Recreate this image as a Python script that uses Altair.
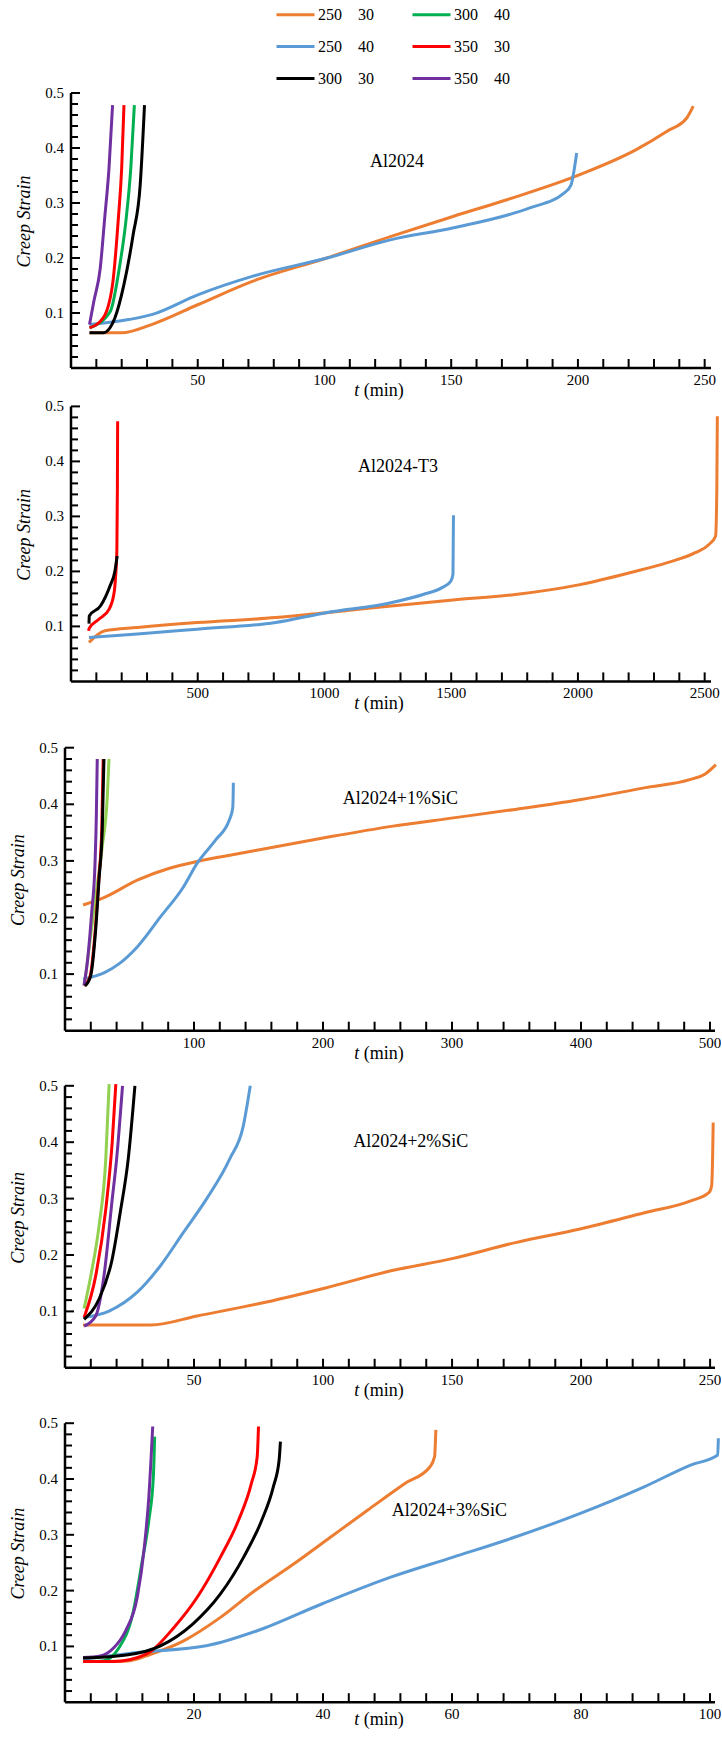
import altair as alt
import pandas as pd

FONT = "Liberation Serif"
SP = "\u00a0\u00a0\u00a0\u00a0"

# ---- series keys (legend labels) and colours ----
K_250_30 = "250" + SP + "30"
K_300_40 = "300" + SP + "40"
K_250_40 = "250" + SP + "40"
K_350_30 = "350" + SP + "30"
K_300_30 = "300" + SP + "30"
K_350_40 = "350" + SP + "40"
K_300_40_LT = "300" + SP + "40\u200b"   # light-green variant used in two panels

# legend fills column by column: col 1 = orange, blue, black; col 2 = green, red, purple
LEGEND_KEYS = [K_250_30, K_250_40, K_300_30, K_300_40, K_350_30, K_350_40]
ALL_KEYS = [K_250_30, K_250_40, K_300_30, K_300_40, K_350_30, K_350_40, K_300_40_LT]
ALL_COLORS = ["#ed7d31", "#5b9bd5", "#000000", "#00b050", "#ff0000", "#7030a0", "#92d050"]

# ---- Panel 1: Al2024 ----
P1_ORANGE_T = [7.3, 20, 31.8, 50, 71.8, 100.9, 126, 151, 172, 201, 223, 235, 243, 245.5]
P1_ORANGE_E = [0.064, 0.064, 0.079, 0.115, 0.158, 0.200, 0.239, 0.276, 0.306, 0.352, 0.397, 0.430, 0.455, 0.476]
P1_BLUE_T = [7.3, 22.7, 31.8, 50, 71.8, 101, 126, 151, 181, 194.5, 197.3, 198.2, 199.5]
P1_BLUE_E = [0.079, 0.088, 0.097, 0.133, 0.167, 0.200, 0.233, 0.255, 0.291, 0.318, 0.333, 0.352, 0.391]
P1_GREEN_T = [7.3, 15.5, 19.0, 21.8, 23.6, 25.0]
P1_GREEN_E = [0.073, 0.103, 0.180, 0.273, 0.364, 0.478]
P1_RED_T = [7.3, 12.7, 16.4, 18.7, 20.0, 20.9]
P1_RED_E = [0.073, 0.091, 0.152, 0.273, 0.364, 0.478]
P1_PURPLE_T = [7.3, 9.0, 11.5, 13.3, 15.0, 16.4]
P1_PURPLE_E = [0.079, 0.121, 0.180, 0.273, 0.364, 0.478]
P1_BLACK_T = [7.3, 12.7, 17.3, 20.9, 24.5, 27.3, 29.0]
P1_BLACK_E = [0.064, 0.064, 0.091, 0.152, 0.242, 0.333, 0.478]

# ---- Panel 2: Al2024-T3 ----
P2_ORANGE_T = [71, 134, 262, 498, 807, 1007, 1262, 1507, 1753, 2008, 2208, 2353, 2463, 2517, 2543, 2548, 2550]
P2_ORANGE_E = [0.071, 0.092, 0.098, 0.107, 0.116, 0.125, 0.137, 0.148, 0.158, 0.176, 0.198, 0.216, 0.234, 0.249, 0.264, 0.350, 0.482]
P2_BLUE_T = [71, 262, 498, 807, 1007, 1262, 1389, 1462, 1498, 1507, 1508, 1509]
P2_BLUE_E = [0.080, 0.086, 0.095, 0.107, 0.125, 0.143, 0.158, 0.170, 0.182, 0.195, 0.250, 0.302]
P2_RED_T = [70, 71, 110, 150, 170, 176, 181, 183, 184]
P2_RED_E = [0.092, 0.096, 0.113, 0.131, 0.161, 0.191, 0.240, 0.350, 0.473]
P2_BLACK_T = [71, 72, 116, 155, 173, 182]
P2_BLACK_E = [0.105, 0.119, 0.137, 0.175, 0.200, 0.228]

# ---- Panel 3: Al2024+1%SiC ----
P3_ORANGE_T = [14, 31, 56, 81, 102.5, 135, 199, 253, 301, 349, 399, 449, 485, 496, 504.6]
P3_ORANGE_E = [0.222, 0.236, 0.266, 0.287, 0.299, 0.313, 0.340, 0.361, 0.376, 0.391, 0.408, 0.429, 0.444, 0.453, 0.470]
P3_BLUE_T = [14, 31, 41.8, 56, 74, 91.8, 102.5, 116.8, 127.5, 130, 130.4, 130.5]
P3_BLUE_E = [0.091, 0.103, 0.118, 0.148, 0.201, 0.254, 0.296, 0.337, 0.373, 0.393, 0.420, 0.438]
P3_GREEN_T = [15, 17.3, 23.8, 28.9, 32.8, 34.1]
P3_GREEN_E = [0.080, 0.121, 0.238, 0.326, 0.414, 0.480]
P3_RED_T = [15, 19.5, 23.5, 26.2, 28.5, 29.6]
P3_RED_E = [0.079, 0.097, 0.179, 0.268, 0.356, 0.480]
P3_PURPLE_T = [14.7, 17.3, 20.7, 23.3, 24.3, 25.0]
P3_PURPLE_E = [0.080, 0.121, 0.209, 0.297, 0.380, 0.480]
P3_BLACK_T = [15.5, 19.9, 23.8, 26.4, 28.9, 30.2]
P3_BLACK_E = [0.079, 0.097, 0.179, 0.268, 0.356, 0.480]

# ---- Panel 4: Al2024+2%SiC ----
P4_ORANGE_T = [7, 20, 33.4, 51.2, 74.5, 101.3, 126.3, 150.4, 174.6, 199.6, 224.6, 242.5, 249.6, 250.6, 251, 251.2]
P4_ORANGE_E = [0.076, 0.076, 0.076, 0.092, 0.113, 0.142, 0.172, 0.194, 0.222, 0.246, 0.275, 0.296, 0.311, 0.323, 0.380, 0.435]
P4_BLUE_T = [7, 17.3, 28, 37, 45.9, 54.8, 63.8, 69.1, 71.8]
P4_BLUE_E = [0.089, 0.101, 0.134, 0.181, 0.240, 0.299, 0.370, 0.429, 0.500]
P4_GREEN_T = [7.4, 10, 13.2, 15.8, 17.1]
P4_GREEN_E = [0.105, 0.163, 0.252, 0.370, 0.503]
P4_RED_T = [7.4, 11.9, 15.8, 18.3, 19.7]
P4_RED_E = [0.089, 0.163, 0.281, 0.400, 0.503]
P4_PURPLE_T = [7.4, 11.9, 15.1, 18.3, 20, 22.3]
P4_PURPLE_E = [0.074, 0.092, 0.163, 0.299, 0.370, 0.500]
P4_BLACK_T = [7.4, 13.2, 18.3, 21.6, 24.5, 27.1]
P4_BLACK_E = [0.086, 0.122, 0.193, 0.281, 0.370, 0.500]

# ---- Panel 5: Al2024+3%SiC ----
P5_ORANGE_T = [2.8, 9.8, 13.3, 18.4, 24.1, 29.1, 35.5, 41.2, 46.9, 52.7, 56.6, 57.3, 57.5]
P5_ORANGE_E = [0.073, 0.074, 0.086, 0.110, 0.152, 0.197, 0.248, 0.296, 0.344, 0.392, 0.422, 0.440, 0.488]
P5_BLUE_T = [2.8, 11.2, 21.9, 29.8, 39.8, 50.5, 60.2, 69.8, 79.8, 89.8, 97, 101.2, 101.3]
P5_BLUE_E = [0.077, 0.089, 0.101, 0.128, 0.176, 0.224, 0.260, 0.296, 0.338, 0.386, 0.425, 0.443, 0.473]
P5_GREEN_T = [2.8, 5.85, 8.4, 10.5, 11.9, 13.0, 13.7, 13.9]
P5_GREEN_E = [0.073, 0.074, 0.098, 0.158, 0.248, 0.326, 0.404, 0.476]
P5_RED_T = [2.8, 7.6, 12.6, 16.9, 20.5, 24.1, 26.9, 28.9, 29.8, 30.0]
P5_RED_E = [0.073, 0.073, 0.086, 0.134, 0.188, 0.260, 0.326, 0.392, 0.440, 0.494]
P5_PURPLE_T = [2.8, 5.5, 7.6, 9.4, 11.2, 12.3, 13.0, 13.6]
P5_PURPLE_E = [0.080, 0.083, 0.098, 0.128, 0.188, 0.278, 0.368, 0.494]
P5_BLACK_T = [2.8, 9.8, 14.8, 19.8, 24.1, 27.7, 30.5, 32.3, 33.2, 33.4]
P5_BLACK_E = [0.079, 0.085, 0.101, 0.140, 0.194, 0.260, 0.326, 0.386, 0.434, 0.467]

# ---- axis tick values ----
Y_LABELS = [0.1, 0.2, 0.3, 0.4, 0.5]
Y_MINOR = [0.02, 0.04, 0.06, 0.08, 0.12, 0.14, 0.16, 0.18, 0.22, 0.24, 0.26, 0.28,
           0.32, 0.34, 0.36, 0.38, 0.42, 0.44, 0.46, 0.48]

LEGEND = alt.Legend(
    orient="none", legendX=210, legendY=-86, columns=2, title=None,
    values=LEGEND_KEYS, symbolType="stroke", symbolSize=1444, symbolStrokeWidth=3,
    labelFont=FONT, labelFontSize=16, labelColor="black", labelOffset=2,
    columnPadding=37, rowPadding=15, clipHeight=15, padding=0, labelLimit=300,
)


def panel(series, xmax, width, plot_h, extra, x0px, xlabels, xstep, label, lx, ly, tgap=23):
    per = (width - x0px) / xmax
    xmin = -x0px / per
    total_h = plot_h + extra
    ymax = 0.5 * total_h / plot_h
    rows = []
    for key, ts, es in series:
        for t, e in zip(ts, es):
            rows.append({"series": key, "t": t, "strain": e})
    df = pd.DataFrame(rows)
    xs = alt.Scale(domain=[xmin, xmax], nice=False, zero=False)
    ys = alt.Scale(domain=[0, ymax], nice=False, zero=False)

    def X(f):
        return alt.X(f, scale=xs, axis=None)

    def Y(f):
        return alt.Y(f, scale=ys, axis=None)

    lines = alt.Chart(df).mark_line(interpolate="monotone", strokeWidth=3).encode(
        x=X("t:Q"), y=Y("strain:Q"),
        color=alt.Color("series:N", scale=alt.Scale(domain=ALL_KEYS, range=ALL_COLORS), legend=LEGEND),
    )

    yline = alt.Chart(pd.DataFrame({"t": [0], "strain": [0], "hi": [0.5]})).mark_rule(
        color="black", strokeWidth=2.5).encode(x=X("t:Q"), y=Y("strain:Q"), y2="hi:Q")
    xline = alt.Chart(pd.DataFrame({"t": [0], "b": [xmax], "strain": [0]})).mark_rule(
        color="black", strokeWidth=2.5).encode(x=X("t:Q"), x2="b:Q", y=Y("strain:Q"))

    ymaj = alt.Chart(pd.DataFrame({"strain": Y_LABELS})).mark_rule(color="black", strokeWidth=2).encode(
        y=Y("strain:Q"), x=alt.value(x0px), x2=alt.value(x0px + 9))
    ymin = alt.Chart(pd.DataFrame({"strain": Y_MINOR})).mark_rule(color="black", strokeWidth=2).encode(
        y=Y("strain:Q"), x=alt.value(x0px), x2=alt.value(x0px + 7))
    n = int(xmax // xstep + 1e-9)
    xt = [xstep * i for i in range(1, n + 1)]
    xticks = alt.Chart(pd.DataFrame({"t": xt})).mark_rule(color="black", strokeWidth=2).encode(
        x=X("t:Q"), y=alt.value(total_h), y2=alt.value(total_h - 9))

    # tick labels and axis titles
    ylab = alt.Chart(pd.DataFrame({"strain": Y_LABELS})).mark_text(
        font=FONT, fontSize=15, align="right", baseline="middle", color="black").encode(
        y=Y("strain:Q"), x=alt.value(x0px - 7), text=alt.Text("strain:Q", format=".1f"))
    xlab = alt.Chart(pd.DataFrame({"t": xlabels})).mark_text(
        font=FONT, fontSize=15, align="center", baseline="middle", color="black").encode(
        x=X("t:Q"), y=alt.value(total_h + 12), text=alt.Text("t:Q", format="d"))

    dummy = pd.DataFrame({"a": [0]})
    ytitle = alt.Chart(dummy).mark_text(
        text="Creep Strain", font=FONT, fontStyle="italic", fontSize=18, angle=270,
        align="center", baseline="middle", color="black").encode(
        x=alt.value(x0px - 46), y=alt.value(extra + plot_h / 2 - 9))
    tt = alt.Chart(dummy).mark_text(text="t", font=FONT, fontStyle="italic", fontSize=18,
                                    align="left", baseline="middle", color="black").encode(
        x=alt.value(289.3), y=alt.value(total_h + tgap))
    tm = alt.Chart(dummy).mark_text(text="(min)", font=FONT, fontSize=18,
                                    align="left", baseline="middle", color="black").encode(
        x=alt.value(298.8), y=alt.value(total_h + tgap))

    ann = alt.Chart(pd.DataFrame({"t": [lx], "strain": [ly], "txt": [label]})).mark_text(
        font=FONT, fontSize=18, align="center", baseline="middle", color="black").encode(
        x=X("t:Q"), y=Y("strain:Q"), text="txt:N")

    return alt.layer(lines, yline, xline, ymaj, ymin, xticks, ylab, xlab, ytitle, tt, tm, ann).properties(
        width=width, height=total_h)


p1 = panel([(K_250_30, P1_ORANGE_T, P1_ORANGE_E), (K_250_40, P1_BLUE_T, P1_BLUE_E),
            (K_300_40, P1_GREEN_T, P1_GREEN_E), (K_350_30, P1_RED_T, P1_RED_E),
            (K_350_40, P1_PURPLE_T, P1_PURPLE_E), (K_300_30, P1_BLACK_T, P1_BLACK_E)],
           xmax=252.5, width=646, plot_h=275, extra=0, x0px=6, xlabels=[50, 100, 150, 200, 250],
           xstep=10, label="Al2024", lx=128.6, ly=0.375)
p2 = panel([(K_250_30, P2_ORANGE_T, P2_ORANGE_E), (K_250_40, P2_BLUE_T, P2_BLUE_E),
            (K_350_30, P2_RED_T, P2_RED_E), (K_300_30, P2_BLACK_T, P2_BLACK_E)],
           xmax=2525, width=646, plot_h=275, extra=0, x0px=6, xlabels=[500, 1000, 1500, 2000, 2500],
           xstep=100, label="Al2024-T3", lx=1290, ly=0.39)
p3 = panel([(K_250_30, P3_ORANGE_T, P3_ORANGE_E), (K_250_40, P3_BLUE_T, P3_BLUE_E),
            (K_300_40_LT, P3_GREEN_T, P3_GREEN_E), (K_350_30, P3_RED_T, P3_RED_E),
            (K_350_40, P3_PURPLE_T, P3_PURPLE_E), (K_300_30, P3_BLACK_T, P3_BLACK_E)],
           xmax=503.9, width=650, plot_h=283, extra=27.9, x0px=0, xlabels=[100, 200, 300, 400, 500],
           xstep=20, label="Al2024+1%SiC", lx=260, ly=0.41)
p4 = panel([(K_250_30, P4_ORANGE_T, P4_ORANGE_E), (K_250_40, P4_BLUE_T, P4_BLUE_E),
            (K_300_40_LT, P4_GREEN_T, P4_GREEN_E), (K_350_30, P4_RED_T, P4_RED_E),
            (K_350_40, P4_PURPLE_T, P4_PURPLE_E), (K_300_30, P4_BLACK_T, P4_BLACK_E)],
           xmax=251.9, width=650, plot_h=282, extra=16.6, x0px=0, xlabels=[50, 100, 150, 200, 250],
           xstep=10, label="Al2024+2%SiC", lx=134, ly=0.40)
p5 = panel([(K_250_30, P5_ORANGE_T, P5_ORANGE_E), (K_250_40, P5_BLUE_T, P5_BLUE_E),
            (K_300_40, P5_GREEN_T, P5_GREEN_E), (K_350_30, P5_RED_T, P5_RED_E),
            (K_350_40, P5_PURPLE_T, P5_PURPLE_E), (K_300_30, P5_BLACK_T, P5_BLACK_E)],
           xmax=100.78, width=650, plot_h=279, extra=16.6, x0px=0, xlabels=[20, 40, 60, 80, 100],
           xstep=4, label="Al2024+3%SiC", lx=59.6, ly=0.343, tgap=18)

chart = alt.vconcat(p1, p2, p3, p4, p5, spacing=38.4, bounds="flush").resolve_scale(
    color="shared").resolve_legend(color="shared").properties(
    padding={"left": 10, "top": 7, "right": -4, "bottom": 0},
    background="white",
).configure_view(stroke=None)

chart.save("out.html", embed_options={"renderer": "svg", "actions": False})
